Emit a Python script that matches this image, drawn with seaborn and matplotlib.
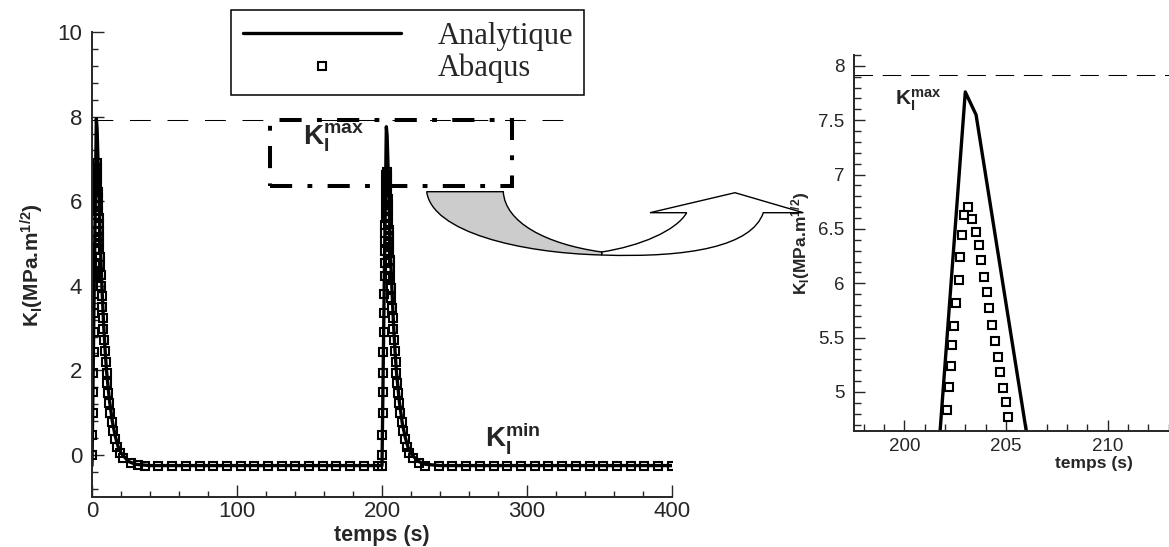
import numpy as np
import pandas as pd
import seaborn as sns
import matplotlib
matplotlib.use("Agg")
import matplotlib.pyplot as plt
from matplotlib.path import Path
from matplotlib.patches import PathPatch, Rectangle
from matplotlib.ticker import MultipleLocator, FuncFormatter

# ---------------- data ----------------
analytic_t = [0.0, 1.76, 3.0, 3.5, 6.0, 7.0, 8.0, 9.0, 10.0, 12.0, 14.0, 16.0, 18.0, 20.0,
              25.0, 30.0, 40.0, 200.0, 201.76, 203.0, 203.53, 206.0, 207.0, 208.0, 209.0,
              210.0, 212.0, 214.0, 216.0, 218.0, 220.0, 225.0, 230.0, 240.0, 400.0]
analytic_v = [-0.25, 4.64, 7.95, 7.72, 4.75, 3.85, 3.1, 2.5, 2.0, 1.3, 0.8, 0.45, 0.2, 0.05,
              -0.15, -0.22, -0.25, -0.25, 4.64, 7.76, 7.55, 4.64, 3.8, 3.05, 2.45,
              1.95, 1.25, 0.75, 0.42, 0.18, 0.03, -0.15, -0.22, -0.25, -0.25]

abaqus_t = [
    # first pulse
    0.00, 0.20, 0.43, 0.65, 0.86, 1.07, 1.28, 1.48, 1.68, 1.86, 2.01, 2.14, 2.24, 2.33,
    2.40, 2.47, 2.59, 2.70, 2.79, 2.88, 2.97, 3.17, 3.36, 3.53, 3.67, 3.79, 3.93, 4.06,
    4.19, 4.31, 4.49, 4.60, 4.71, 4.85, 4.99, 5.12, 5.35, 5.60, 5.90, 6.25, 6.60, 7.00,
    7.45, 7.90, 8.40, 8.90, 9.40, 10.0, 10.6, 11.2, 11.9, 12.7, 13.6, 14.6, 15.8, 17.2,
    19.0, 21.5, 27.0, 31.8,
    36.4, 45.8, 55.3, 64.7, 74.2, 83.6, 93.0, 102.5, 111.9, 121.4, 130.8, 140.2, 149.7,
    159.1, 168.6, 178.0, 187.4, 196.9, 199.8,
    # second pulse
    199.92, 200.13, 200.37, 200.59, 200.80, 201.02, 201.23, 201.44, 201.64, 201.83, 201.98,
    202.11, 202.21, 202.30, 202.36, 202.43, 202.56, 202.67, 202.75, 202.85, 202.93, 203.15,
    203.34, 203.52, 203.66, 203.77, 203.92, 204.05, 204.18, 204.30, 204.48, 204.59, 204.70,
    204.84, 204.98, 205.11, 205.30, 205.55, 205.85, 206.20, 206.55, 206.95, 207.40, 207.85,
    208.35, 208.85, 209.35, 209.95, 210.55, 211.15, 211.85, 212.65, 213.55, 214.55, 215.75,
    217.15, 218.95, 221.45, 225.5,
    229.7, 239.2, 248.6, 258.1, 267.5, 277.0, 286.4, 295.9, 305.3, 314.8, 324.3, 333.7,
    343.2, 352.6, 362.1, 371.5, 381.0, 390.5, 399.9]
abaqus_v = [
    0.00, 0.47, 1.00, 1.48, 1.95, 2.43, 2.90, 3.35, 3.80, 4.22, 4.55, 4.85, 5.08, 5.28,
    5.48, 5.67, 5.89, 6.11, 6.33, 6.55, 6.76, 6.90, 6.78, 6.65, 6.52, 6.38, 6.22, 6.07,
    5.92, 5.76, 5.60, 5.45, 5.30, 5.15, 5.01, 4.87, 4.68, 4.48, 4.25, 4.00, 3.75, 3.50,
    3.24, 2.98, 2.72, 2.46, 2.20, 1.95, 1.70, 1.46, 1.22, 1.00, 0.78, 0.57, 0.38, 0.20,
    0.05, -0.08, -0.18, -0.23,
    -0.25, -0.25, -0.25, -0.25, -0.25, -0.25, -0.25, -0.25, -0.25, -0.25, -0.25, -0.25, -0.25,
    -0.25, -0.25, -0.25, -0.25, -0.25, -0.25,
    0.00, 0.47, 1.00, 1.48, 1.95, 2.43, 2.90, 3.35, 3.80, 4.22, 4.55,
    4.83, 5.05, 5.24, 5.43, 5.61, 5.82, 6.03, 6.24, 6.44, 6.63, 6.70,
    6.59, 6.47, 6.35, 6.21, 6.06, 5.92, 5.77, 5.62, 5.47, 5.32, 5.18,
    5.04, 4.91, 4.77, 4.60, 4.40, 4.18, 3.95, 3.72, 3.48, 3.23, 2.98,
    2.72, 2.46, 2.20, 1.95, 1.70, 1.46, 1.22, 1.00, 0.78, 0.57, 0.38,
    0.20, 0.05, -0.08, -0.18,
    -0.25, -0.25, -0.25, -0.25, -0.25, -0.25, -0.25, -0.25, -0.25, -0.25, -0.25, -0.25,
    -0.25, -0.25, -0.25, -0.25, -0.25, -0.25, -0.25]

kmax_level = 7.93
kmax_level_inset = 7.915
main_xticks = [0, 100, 200, 300, 400]
inset_xticks = [200, 205, 210]

analytic = pd.DataFrame({"t": analytic_t, "K": analytic_v})
abaqus = pd.DataFrame({"t": abaqus_t, "K": abaqus_v})

# ---------------- style ----------------
sns.set_style("ticks")
plt.rcParams["font.family"] = ["Liberation Sans", "DejaVu Sans"]
plt.rcParams["mathtext.fontset"] = "custom"
plt.rcParams["mathtext.rm"] = "Liberation Sans"
plt.rcParams["mathtext.it"] = "Liberation Sans:italic"
plt.rcParams["mathtext.bf"] = "Liberation Sans:bold"

W, H = 1169, 547
fig = plt.figure(figsize=(W / 100, H / 100), dpi=100)

def fx(x):
    return x / W

def fy(y):
    return 1 - y / H

ylabel_txt = r"$\mathbf{K_I(MPa.\!m^{1/2})}$"

# ---------------- main axes ----------------
ax = fig.add_axes([fx(92), fy(497.3), (672 - 92) / W, (497.3 - 32) / H])

line_kw = dict(color="black", linewidth=2.4, estimator=None, sort=False)
mark_kw = dict(color="black", estimator=None, sort=False, linestyle="none", marker="s",
               markersize=5.4, markerfacecolor="none", markeredgecolor="black",
               markeredgewidth=1.5)

sns.lineplot(data=analytic, x="t", y="K", ax=ax, label="Analytique", **line_kw)
sns.lineplot(data=abaqus, x="t", y="K", ax=ax, label="Abaqus", **mark_kw)

ax.plot([0, 328.5], [kmax_level, kmax_level], color="black", lw=0.75,
        linestyle=(0, (20, 16)), zorder=1)
ax.add_patch(Rectangle((122.8, 6.35), 289.4 - 122.8, kmax_level - 6.35, fill=False,
                       edgecolor="black", lw=2.9, linestyle=(0, (5.5, 3.8, 1.2, 3.8)),
                       zorder=4))

ax.set_xlim(0, 400)
ax.set_ylim(-1, 10)
ax.set_xticks(main_xticks)
ax.xaxis.set_minor_locator(MultipleLocator(20))
ax.yaxis.set_major_locator(MultipleLocator(2))
ax.yaxis.set_minor_locator(MultipleLocator(0.4))
for s in ["top", "right"]:
    ax.spines[s].set_visible(False)
for s in ["left", "bottom"]:
    ax.spines[s].set_linewidth(1.4)
ax.tick_params(axis="both", which="major", direction="in", length=8.5, width=1.0,
               labelsize=16)
ax.tick_params(axis="both", which="minor", direction="in", length=4.5, width=1.0)
ax.tick_params(axis="y", which="major", pad=7)
ax.tick_params(axis="x", which="major", pad=3)
ax.set_xlabel("temps (s)", fontsize=15.5, fontweight="bold", labelpad=2)
ax.set_ylabel(ylabel_txt, fontsize=15, labelpad=8)

ax.text(145.5, 7.33, r"$\mathbf{K_I^{max}}$", fontsize=20, ha="left", va="baseline",
        zorder=5)
ax.text(271, 0.21, r"$\mathbf{K_I^{min}}$", fontsize=20, ha="left", va="baseline")

leg = ax.legend(loc="upper left", bbox_to_anchor=(fx(231), fy(10.2)),
                bbox_transform=fig.transFigure, borderaxespad=0,
                prop={"family": "Liberation Serif", "size": 22},
                handlelength=5.17, handletextpad=1.2, borderpad=0.38,
                labelspacing=0.1, numpoints=1, fancybox=False, framealpha=1,
                edgecolor="black")
leg.get_frame().set_linewidth(1.1)

# ---------------- inset axes ----------------
in_left, in_right, in_top, in_bottom = 854, 1334, 55, 430.7
ax2 = fig.add_axes([fx(in_left), fy(in_bottom), (in_right - in_left) / W,
                    (in_bottom - in_top) / H])
sns.lineplot(data=analytic, x="t", y="K", ax=ax2, legend=False, **line_kw)
sns.lineplot(data=abaqus, x="t", y="K", ax=ax2, legend=False, **mark_kw)
ax2.axhline(kmax_level_inset, color="black", lw=0.75, linestyle=(0, (17.8, 9.3)), zorder=1)
x_per = 20.33
ax2.set_xlim(200 - (904.3 - in_left) / x_per, 200 + (in_right - 904.3) / x_per)
ax2.set_ylim(4.644, 8.1)
ax2.set_xticks(inset_xticks)
ax2.xaxis.set_minor_locator(MultipleLocator(1))
ax2.yaxis.set_major_locator(MultipleLocator(0.5))
ax2.yaxis.set_minor_locator(MultipleLocator(0.1))
ax2.yaxis.set_major_formatter(FuncFormatter(lambda v, p: f"{v:g}"))
for s in ["top", "right"]:
    ax2.spines[s].set_visible(False)
for s in ["left", "bottom"]:
    ax2.spines[s].set_linewidth(1.4)
ax2.tick_params(axis="both", which="major", direction="in", length=8, width=1.0,
                labelsize=13.5)
ax2.tick_params(axis="both", which="minor", direction="in", length=5, width=1.0)
ax2.tick_params(axis="y", which="major", pad=7)
ax2.tick_params(axis="x", which="major", pad=5)
ax2.set_xlabel("temps (s)", fontsize=12.5, fontweight="bold", labelpad=1)
ax2.set_ylabel(ylabel_txt, fontsize=12.5, labelpad=4)
ax2.text(199.54, 7.64, r"$\mathbf{K_I^{max}}$", fontsize=15, ha="left", va="baseline")

# ---------------- curved arrow (decoration) ----------------
def P(x, y):
    return (fx(x), fy(y))

gray_verts = [P(426.7, 191.7), P(503.3, 191.7),
              P(505, 222), P(545, 244), P(601.7, 252),
              P(601.7, 255),
              P(520, 253), P(432, 232), P(426.7, 191.7),
              P(426.7, 191.7)]
gray_codes = [Path.MOVETO, Path.LINETO,
              Path.CURVE4, Path.CURVE4, Path.CURVE4,
              Path.LINETO,
              Path.CURVE4, Path.CURVE4, Path.CURVE4,
              Path.CLOSEPOLY]
white_verts = [P(601.7, 252),
               P(640, 246), P(676, 231), P(686.7, 212.7),
               P(650, 212.7), P(735, 192.7), P(803.3, 212.7), P(763.3, 212.7),
               P(752, 246), P(690, 258), P(601.7, 255),
               P(601.7, 252)]
white_codes = [Path.MOVETO,
               Path.CURVE4, Path.CURVE4, Path.CURVE4,
               Path.LINETO, Path.LINETO, Path.LINETO, Path.LINETO,
               Path.CURVE4, Path.CURVE4, Path.CURVE4,
               Path.CLOSEPOLY]
fig.add_artist(PathPatch(Path(white_verts, white_codes), facecolor="white",
                         edgecolor="black", lw=1.0, transform=fig.transFigure, zorder=3))
fig.add_artist(PathPatch(Path(gray_verts, gray_codes), facecolor="#cccccc",
                         edgecolor="black", lw=1.0, transform=fig.transFigure, zorder=3))

fig.savefig("out.png", dpi=100)
